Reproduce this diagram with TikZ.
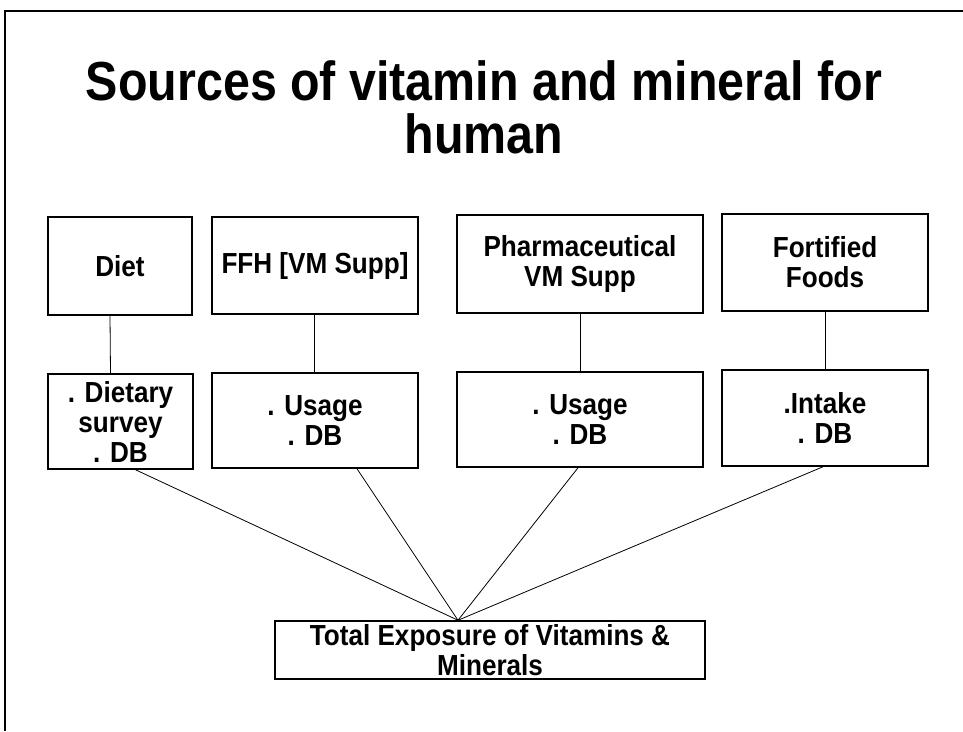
\documentclass[tikz,border=0pt]{standalone}
\usepackage{fontspec}
\setmainfont{Liberation Sans}[FakeStretch=0.9]
\newfontfamily\titlefont{Liberation Sans}[FakeStretch=0.88]

\begin{document}
\begin{tikzpicture}[x=1pt, y=-1pt, block/.style={draw, rectangle, line width=1.5pt, inner sep=0pt, align=center, font=\bfseries\fontsize{29}{30}\selectfont}]
            \tikzset{link/.style = {line width=0.8pt}}
            \useasboundingbox (0,0) rectangle (963,731);
            \draw[line width=2pt] (5,731) -- (5,11) -- (963,11);

            \node[font=\titlefont\bfseries\fontsize{55}{53}\selectfont, align=center, inner sep=0pt, anchor=north] (title) at (484,60) {Sources of vitamin and mineral for\\human};

            \node[block, minimum width=144pt, minimum height=98pt] (diet) at (120,266) {Diet};
            \node[block, minimum width=206pt, minimum height=97pt] (ffh) at (315,265.5) {FFH [VM Supp]};
            \node[block, minimum width=246pt, minimum height=98pt] (pharma) at (580,264) {Pharmaceutical\\VM Supp};
            \node[block, minimum width=206pt, minimum height=97pt] (fortified) at (825,262.5) {Fortified\\Foods};

            \node[block, minimum width=145pt, minimum height=95pt] (dietdb) at (120.5,421.5) {. Dietary\\survey\\. DB};
            \node[block, minimum width=206pt, minimum height=95pt] (ffhdb) at (315,420.5) {. Usage\\. DB};
            \node[block, minimum width=246pt, minimum height=95pt] (pharmadb) at (580,419.5) {. Usage\\. DB};
            \node[block, minimum width=206pt, minimum height=96pt] (fortifieddb) at (825,418) {.Intake\\. DB};

            \node[block, minimum width=430pt, minimum height=58pt] (total) at (490,650) {Total Exposure of Vitamins \&\\Minerals};

            \draw [link] ([xshift=-10pt]diet.south) to ([xshift=-10pt]dietdb.north);
            \draw [link] ([xshift=-1pt]ffh.south) to ([xshift=-1pt]ffhdb.north);
            \draw [link] (pharma) to (pharmadb);
            \draw [link] (fortified) to (fortifieddb);

            \coordinate (apex) at ([xshift=-32pt]total.north);
            \draw [link] ([xshift=15pt]dietdb.south) to (apex);
            \draw [link] ([xshift=42pt]ffhdb.south) to (apex);
            \draw [link] ([xshift=-2pt]pharmadb.south) to (apex);
            \draw [link] ([xshift=-2pt]fortifieddb.south) to (apex);
            \end{tikzpicture}
\end{document}
